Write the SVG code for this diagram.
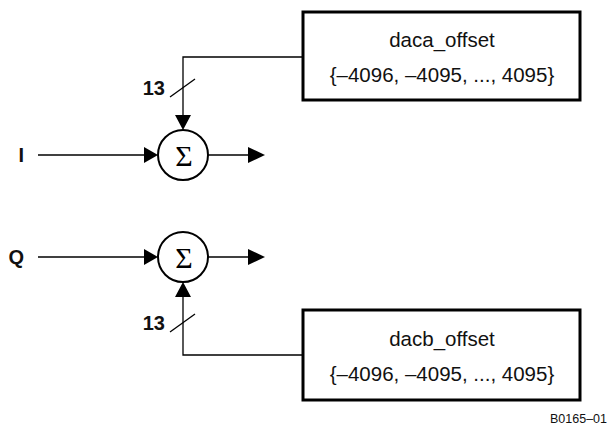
<svg xmlns="http://www.w3.org/2000/svg" width="608" height="427" viewBox="0 0 608 427">
<style>
.w{fill:none;stroke:#000;stroke-width:1.3}
.box{fill:#fff;stroke:#000;stroke-width:3}
.sum{fill:#fff;stroke:#000;stroke-width:2}
.ah{fill:#000;stroke:none}
.t{font-family:"Liberation Sans",Arial,sans-serif;font-size:20.5px;fill:#111}
.b{font-family:"Liberation Sans",Arial,sans-serif;font-size:20px;font-weight:bold;fill:#111}
.s{font-family:"Liberation Serif","Times New Roman",serif;font-size:30px;fill:#000}
.id{font-family:"Liberation Sans",Arial,sans-serif;font-size:12.5px;fill:#111}
</style>
<g id="connectors">
<path class="w" d="M303,57 H183 V116"/>
<polygon class="ah" points="175,115 191,115 183,130"/>
<line class="w" x1="170" y1="97" x2="195" y2="79"/>
<path class="w" d="M38,155 H145"/>
<polygon class="ah" points="144,147 144,163 158,155"/>
<path class="w" d="M208,155 H250"/>
<polygon class="ah" points="248,147 248,163 265,155"/>
<path class="w" d="M38,257 H145"/>
<polygon class="ah" points="144,249 144,265 158,257"/>
<path class="w" d="M208,257 H250"/>
<polygon class="ah" points="248,249 248,265 265,257"/>
<path class="w" d="M303,355 H183 V296"/>
<polygon class="ah" points="175,297 191,297 183,282"/>
<line class="w" x1="170" y1="332" x2="195" y2="314"/>
</g>
<g id="daca_offset">
<rect class="box" x="303" y="12" width="277" height="88"/>
<text class="t" x="442" y="47" text-anchor="middle">daca_offset</text>
<text class="t" x="442" y="82" text-anchor="middle">{–4096, –4095, ..., 4095}</text>
</g>
<g id="dacb_offset">
<rect class="box" x="303" y="310" width="277" height="90"/>
<text class="t" x="442" y="346" text-anchor="middle">dacb_offset</text>
<text class="t" x="442" y="381" text-anchor="middle">{–4096, –4095, ..., 4095}</text>
</g>
<g id="sum_i">
<circle class="sum" cx="183" cy="155" r="25"/>
<text class="s" x="184" y="166" text-anchor="middle">Σ</text>
</g>
<g id="sum_q">
<circle class="sum" cx="183" cy="257" r="25"/>
<text class="s" x="184" y="268" text-anchor="middle">Σ</text>
</g>
<g id="labels">
<text class="b" x="24" y="162" text-anchor="end">I</text>
<text class="b" x="24" y="264" text-anchor="end">Q</text>
<text class="b" x="165" y="95" text-anchor="end">13</text>
<text class="b" x="165" y="330" text-anchor="end">13</text>
<text class="id" x="607" y="423" text-anchor="end">B0165–01</text>
</g>
</svg>
